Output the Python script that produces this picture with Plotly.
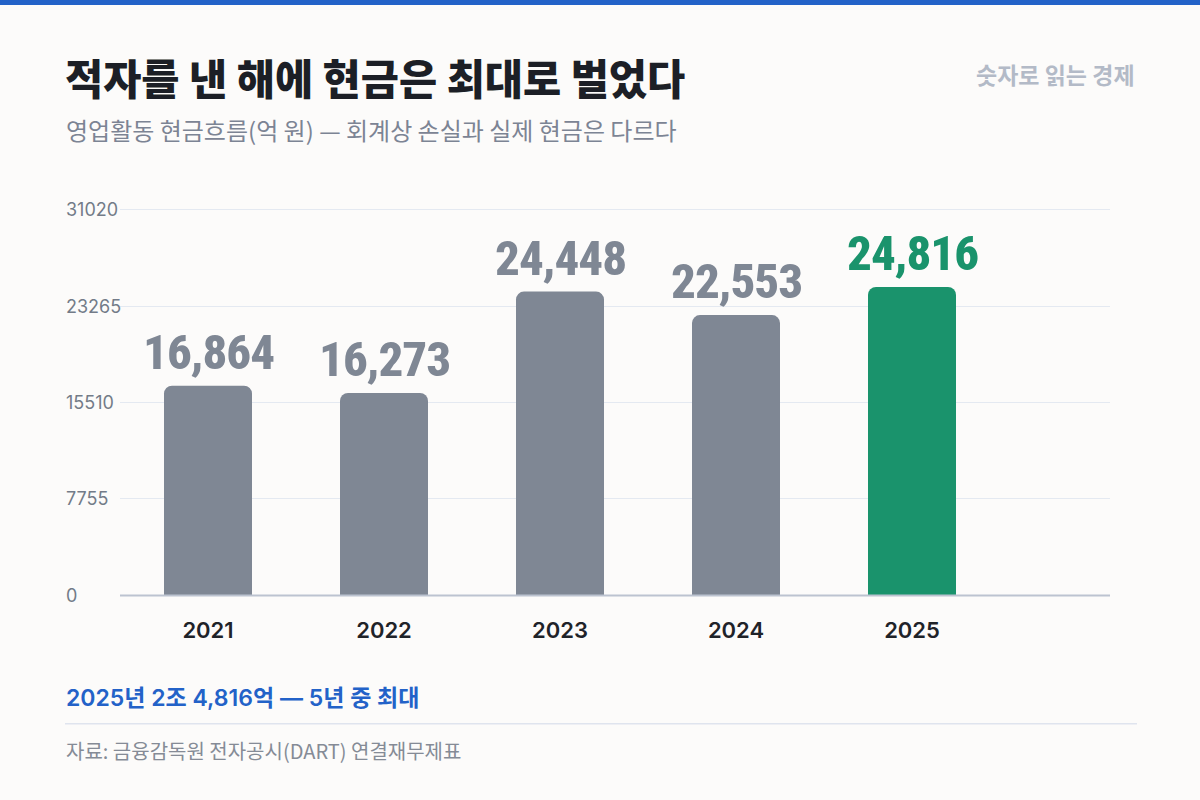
import plotly.graph_objects as go

years = ["2021", "2022", "2023", "2024", "2025"]
cash_flow = [16864, 16273, 24448, 22553, 24816]
bar_colors = ["#7f8794", "#7f8794", "#7f8794", "#7f8794", "#1a936c"]
y_ticks = [0, 7755, 15510, 23265, 31020]

title = "적자를 낸 해에 현금은 최대로 벌었다"
subtitle = "영업활동 현금흐름(억 원) — 회계상 손실과 실제 현금은 다르다"
brand = "숫자로 읽는 경제"
highlight = "2025년 2조 4,816억 — 5년 중 최대"
source = "자료: 금융감독원 전자공시(DART) 연결재무제표"

W, H = 1200, 800
L, R, T, B = 120, 1110, 210, 595
KR = "Inter, 'Noto Sans CJK KR', sans-serif"
KRT = "'Noto Sans CJK KR', sans-serif"
COND = "'Roboto Condensed', Roboto, sans-serif"


def px(x):
    return (x - L) / (R - L)


def py(y):
    return (B - y) / (B - T)


fig = go.Figure()
fig.add_trace(go.Bar(
    x=years, y=cash_flow, width=0.5,
    marker=dict(color=bar_colors, cornerradius=8, line=dict(width=0)),
    hoverinfo="skip",
))

annotations = []
for i, (v, c) in enumerate(zip(cash_flow, bar_colors)):
    annotations.append(dict(
        x=i, y=v, xref="x", yref="y",
        text=f"<span style='font-stretch:condensed;letter-spacing:-1px'>{v:,}</span>",
        showarrow=False, yanchor="bottom", xanchor="center", yshift=3,
        font=dict(family=COND, size=49, color=c, weight=800),
    ))
for t in y_ticks:
    annotations.append(dict(
        x=px(64), y=t, xref="paper", yref="y", text=str(t),
        showarrow=False, xanchor="left", yanchor="middle",
        font=dict(family=KR, size=18, color="#737b88"),
    ))

annotations += [
    dict(x=px(63), y=py(80), xref="paper", yref="paper", text=title,
         showarrow=False, xanchor="left", yanchor="middle",
         font=dict(family=KRT, size=41.5, color="#1c1f26", weight=800)),
    dict(x=px(64), y=py(132), xref="paper", yref="paper", text=subtitle,
         showarrow=False, xanchor="left", yanchor="middle",
         font=dict(family=KRT, size=24, color="#7c8494")),
    dict(x=px(1137), y=py(77), xref="paper", yref="paper", text=brand,
         showarrow=False, xanchor="right", yanchor="middle",
         font=dict(family=KRT, size=23, color="#b3bac7", weight=700)),
    dict(x=px(64), y=py(697), xref="paper", yref="paper", text=highlight,
         showarrow=False, xanchor="left", yanchor="middle",
         font=dict(family=KR, size=23, color="#2362c8", weight=600)),
    dict(x=px(64), y=py(750), xref="paper", yref="paper", text=source,
         showarrow=False, xanchor="left", yanchor="middle",
         font=dict(family=KRT, size=20, color="#858b96")),
]

shapes = [
    dict(type="rect", xref="paper", yref="paper", x0=px(0), x1=px(W), y0=py(0), y1=py(8),
         fillcolor="#2362c8", line=dict(width=0), layer="above"),
    dict(type="line", xref="paper", yref="paper", x0=px(65), x1=px(1137), y0=py(723), y1=py(723),
         line=dict(color="#dfe4ee", width=1.5)),
    dict(type="line", xref="paper", yref="paper", x0=0, x1=1, y0=py(595.5), y1=py(595.5),
         line=dict(color="#bcc3d0", width=2), layer="above"),
]

fig.update_layout(
    width=W, height=H,
    margin=dict(l=L, r=W - R, t=T - 2, b=H - B, pad=0),
    paper_bgcolor="#fcfbfa", plot_bgcolor="#fcfbfa",
    showlegend=False,
    annotations=annotations, shapes=shapes,
    xaxis=dict(
        type="category", range=[-0.5, 5.125], showgrid=False, zeroline=False,
        showline=False, ticks="outside", ticklen=16, tickcolor="rgba(0,0,0,0)",
        tickfont=dict(family=KR, size=22, color="#1f2329", weight=600),
        fixedrange=True,
    ),
    yaxis=dict(
        range=[0, 31180], tickvals=y_ticks, showticklabels=False,
        showgrid=True, gridcolor="#e4e9f1", gridwidth=1, zeroline=False,
        showline=False, fixedrange=True,
    ),
)

fig.write_html("out.html", config={"displayModeBar": False})
